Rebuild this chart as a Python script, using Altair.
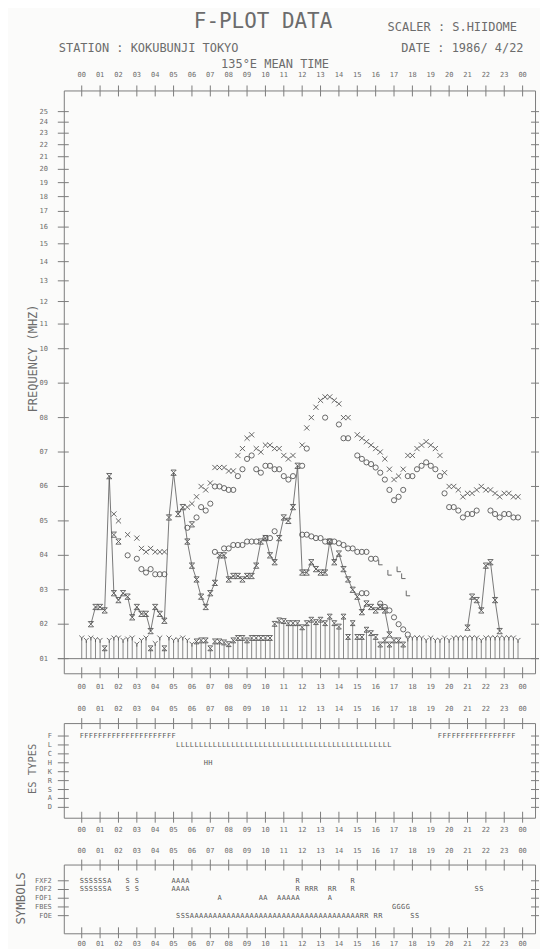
import altair as alt
import pandas as pd

# ---------------- styling ----------------
MONO = "DejaVu Sans Mono"
INK = "#585858"
LINE = "#7c7c7c"
TXT = "#6c6c6c"
BG = "#fbfbfa"

# ---------------- axis / tick labels ----------------
HOUR_TICKS = list(range(25))
HOUR_LABELS = ["%02d" % (h % 24) for h in HOUR_TICKS]
FREQ_TICKS = list(range(1, 26))
FREQ_LABELS = ["%02d" % f for f in FREQ_TICKS]

# ---------------- data (15-minute slots, slot i -> i/4 hours) ----------------
FMIN = [1.60, 1.53, 1.60, 1.55, 1.53, 1.30, 1.53, 1.60, 1.60, 1.53,
        1.57, 1.60, 1.42, 1.53, 1.60, 1.30, 1.44, 1.60, 1.30, 1.60,
        1.53, 1.55, 1.60, 1.53, 1.42, 1.50, 1.53, 1.53, 1.30, 1.50,
        1.50, 1.47, 1.42, 1.53, 1.60, 1.60, 1.53, 1.60, 1.60, 1.60,
        1.60, 1.60, 2.01, 2.11, 2.09, 2.03, 2.03, 2.03, 1.91, 2.03,
        2.13, 2.06, 2.13, 2.03, 2.22, 2.03, 1.93, 2.22, 1.63, 2.03,
        1.63, 1.63, 1.84, 1.74, 1.63, 1.41, 1.53, 1.41, 1.53, 1.53,
        1.41, 1.57, 1.60, 1.60, 1.60, 1.53, 1.60, 1.53, 1.53, 1.60,
        1.53, 1.60, 1.60, 1.60, 1.60, 1.60, 1.60, 1.53, 1.60, 1.60,
        1.60, 1.60, 1.60, 1.60, 1.60, 1.53]
FMIN_SYM = list("YYYYYH" + "YYYYYYYYY" + "H" + "YY" + "H" + "YYYYYY" + "H" * 46 + "Y" * 25)

FOES_SLOT = list(range(2, 68)) + list(range(84, 92))
FOES = [2.0, 2.5, 2.5, 2.4, 6.3, 2.9, 2.7, 2.9, 2.8, 2.2,
        2.5, 2.3, 2.3, 1.8, 2.5, 2.3, 2.1, 5.1, 6.4, 5.2,
        5.4, 4.4, 3.7, 3.3, 2.8, 2.5, 2.9, 3.2, 4.0, 4.0,
        3.3, 3.4, 3.4, 3.3, 3.4, 3.4, 3.7, 4.4, 4.5, 4.0,
        3.8, 4.5, 5.1, 5.0, 5.4, 6.6, 3.5, 3.5, 3.8, 3.6,
        3.5, 3.5, 4.4, 3.8, 4.05, 3.6, 3.3, 3.0, 2.8, 2.35,
        2.6, 2.5, 2.4, 2.5, 2.4, 1.7,
        1.9, 2.8, 2.7, 2.4, 3.7, 3.8, 2.7, 1.8]

FXF2_SLOT = [7, 8, 10, 12, 13, 14, 15, 16, 17, 18,
             23, 24, 25, 26, 27, 28, 29, 30, 31, 32, 33, 34, 35, 36, 37, 38, 39, 40, 41, 42, 43, 44, 45, 46,
             48, 49, 50, 51, 52, 53, 54, 55, 56, 57, 58] + list(range(60, 96))
FXF2 = [5.2, 5.0, 4.6, 4.5, 4.2, 4.1, 4.2, 4.1, 4.1, 4.1,
        5.4, 5.5, 5.7, 6.0, 5.9, 6.1, 6.55, 6.55, 6.55, 6.45, 6.45, 6.9, 7.1, 7.4, 7.5, 7.1, 7.0, 7.2, 7.2, 7.1, 7.1, 6.9, 6.8, 6.9,
        7.2, 7.7, 8.0, 8.3, 8.5, 8.6, 8.6, 8.5, 8.4, 8.0, 8.0,
        7.5, 7.4, 7.3, 7.2, 7.1, 7.0, 6.8, 6.5, 6.2, 6.3, 6.5, 6.9, 6.9, 7.1, 7.2, 7.3, 7.2, 7.1,
        6.9, 6.4, 6.0, 6.0, 5.9, 5.7, 5.8, 5.8, 5.9, 6.0, 5.9, 5.9, 5.8, 5.7, 5.8, 5.8, 5.7, 5.7]

FOF2_SLOT = [7, 8, 10, 12, 13, 14, 15, 16, 17, 18,
             23, 24, 25, 26, 27, 28, 29, 30, 31, 32, 33, 34, 35, 36, 37, 38, 39, 40, 41, 42, 43, 44, 45, 46,
             48, 49, 53, 56, 57, 58] + list(range(60, 87)) + list(range(89, 96))
FOF2 = [4.6, 4.4, 4.0, 3.9, 3.6, 3.5, 3.6, 3.45, 3.45, 3.45,
        4.8, 4.9, 5.1, 5.4, 5.3, 5.5, 6.0, 6.0, 5.95, 5.9, 5.9, 6.3, 6.5, 6.8, 6.9, 6.5, 6.4, 6.6, 6.6, 6.5, 6.5, 6.3, 6.2, 6.3,
        6.6, 7.1, 8.0, 7.8, 7.4, 7.4,
        6.9, 6.8, 6.7, 6.65, 6.55, 6.4, 6.2, 5.9, 5.6, 5.7, 5.9, 6.3, 6.3, 6.5, 6.6, 6.7, 6.6, 6.5, 6.3,
        5.8, 5.4, 5.4, 5.3, 5.1, 5.2, 5.2, 5.3,
        5.3, 5.2, 5.1, 5.2, 5.2, 5.1, 5.1]
FOF2_ALT_SLOT = [7, 8, 24]          # plotted with the hourglass symbol

FOF1_SLOT = [29, 31, 32, 33, 34, 35, 36, 37, 38, 40, 41, 42,
             48, 49, 50, 51, 52, 53, 54, 55, 56, 57, 58, 59, 60, 61, 62, 63, 64]
FOF1 = [4.1, 4.2, 4.2, 4.3, 4.3, 4.3, 4.4, 4.4, 4.4, 4.5, 4.5, 4.7,
        4.6, 4.6, 4.55, 4.5, 4.5, 4.4, 4.4, 4.4, 4.35, 4.3, 4.2, 4.2, 4.1, 4.1, 4.1, 3.9, 3.9]
FOF1L_SLOT = [65, 67, 69, 70, 71]
FOF1L = [3.8, 3.5, 3.6, 3.4, 2.9]

FOE_SLOT = [61, 62, 65, 66, 67, 68, 69, 70, 71]
FOE = [2.9, 2.9, 2.6, 2.5, 2.4, 2.2, 2.0, 1.85, 1.7]

ES_ROWS = ["F", "L", "C", "H", "K", "R", "S", "A", "D"]
ES_RUNS = [("F", 0, 20), ("L", 21, 67), ("H", 27, 28), ("F", 78, 94)]

SYM_ROWS = ["FXF2", "FOF2", "FOF1", "FBES", "FOE"]
SYM_RUNS = [("FXF2", "S", 0, 5), ("FXF2", "A", 6, 6), ("FXF2", "S", 10, 10), ("FXF2", "S", 12, 12),
            ("FXF2", "A", 20, 23), ("FXF2", "R", 47, 47), ("FXF2", "R", 59, 59),
            ("FOF2", "S", 0, 5), ("FOF2", "A", 6, 6), ("FOF2", "S", 10, 10), ("FOF2", "S", 12, 12),
            ("FOF2", "A", 20, 23), ("FOF2", "R", 47, 47), ("FOF2", "R", 49, 51), ("FOF2", "R", 54, 55),
            ("FOF2", "R", 59, 59), ("FOF2", "S", 86, 87),
            ("FOF1", "A", 30, 30), ("FOF1", "A", 39, 40), ("FOF1", "A", 43, 47), ("FOF1", "A", 54, 54),
            ("FBES", "G", 68, 71),
            ("FOE", "S", 21, 23), ("FOE", "A", 24, 60), ("FOE", "R", 61, 62), ("FOE", "R", 64, 65),
            ("FOE", "S", 72, 73)]

# ---------------- geometry of the panels ----------------
W = 473
H_MAIN = 585
H_ES = 95
H_SYM = 69
X_DOMAIN = [-0.976, 24.675]

# frequency axis of the printed form: linear 1-10 MHz, logarithmic above 10 MHz.
# 'fy' is the frequency expressed in "linear-MHz" units of the lower part.
FY_EXPR = "datum.f <= 10 ? datum.f : 10 + 17.303 * log(datum.f / 10) / LN10"
Y_DOMAIN = [0.575, 17.50]

XS = alt.Scale(domain=X_DOMAIN, nice=False, zero=False)
YS = alt.Scale(domain=Y_DOMAIN, nice=False, zero=False)

SHAPES = {
    "x": "M-1,-1L1,1M-1,1L1,-1",
    "o": "circle",
    "hg": "M-1,-1L1,-1L-1,1L1,1Z",
    "y": "M-1,-1L0,0L1,-1M0,0L0,1",
    "l": "M-0.6,-1L-0.6,1L0.9,1",
}
SHAPE_SCALE = alt.Scale(domain=list(SHAPES.keys()), range=list(SHAPES.values()))


def xq(field="t"):
    return alt.X(f"{field}:Q", scale=XS, axis=None)


def yq(field="fy"):
    return alt.Y(f"{field}:Q", scale=YS, axis=None)


one = pd.DataFrame({"k": [0]})
hours = pd.DataFrame({"h": HOUR_TICKS, "lab": HOUR_LABELS})
freqs = pd.DataFrame({"f": FREQ_TICKS, "lab": FREQ_LABELS})


def anchor(top, bottom):
    return alt.Chart(one).mark_rule(opacity=0, strokeWidth=0.01).encode(
        x=alt.value(-55), x2=alt.value(-55), y=alt.value(top), y2=alt.value(bottom))


def hour_frame(h, top_off, bot_off):
    base = alt.Chart(hours)
    t1 = base.mark_rule(color=LINE, strokeWidth=1).encode(
        x=xq("h"), y=alt.value(-5), y2=alt.value(6))
    t2 = base.mark_rule(color=LINE, strokeWidth=1).encode(
        x=xq("h"), y=alt.value(h - 6), y2=alt.value(h + 5))
    l1 = base.mark_text(font=MONO, fontSize=7, color=TXT, baseline="middle").encode(
        x=xq("h"), y=alt.value(top_off), text="lab:N")
    l2 = base.mark_text(font=MONO, fontSize=7, color=TXT, baseline="middle").encode(
        x=xq("h"), y=alt.value(h + bot_off), text="lab:N")
    return [t1, t2, l1, l2]


def label(text, x, y, size, align="center", angle=0):
    return alt.Chart(pd.DataFrame({"s": [text]})).mark_text(
        font=MONO, fontSize=size, color=TXT, align=align, baseline="middle", angle=angle
    ).encode(x=alt.value(x), y=alt.value(y), text="s:N")


def row_panel(rows, runs, h, ys, top_anchor, bottom_anchor, bot_lab, title, title_x, title_y, title_size):
    row_df = pd.DataFrame({"r": rows, "ri": list(range(len(rows)))})
    txt = []
    for row, ch, a, b in runs:
        for i in range(a, b + 1):
            txt.append({"t": i / 4, "ri": rows.index(row), "c": ch})
    txt_df = pd.DataFrame(txt)
    yy = alt.Y("ri:Q", scale=ys, axis=None)
    layers = [anchor(top_anchor, bottom_anchor)]
    layers += hour_frame(h, -14, bot_lab)
    rb = alt.Chart(row_df)
    layers += [
        rb.mark_rule(color=LINE, strokeWidth=1).encode(y=yy, x=alt.value(-6), x2=alt.value(5)),
        rb.mark_rule(color=LINE, strokeWidth=1).encode(y=yy, x=alt.value(W - 4), x2=alt.value(W + 4)),
        rb.mark_text(font=MONO, fontSize=7, color=TXT, align="right", baseline="middle").encode(
            y=yy, x=alt.value(-12), text="r:N"),
        alt.Chart(txt_df).mark_text(font=MONO, fontSize=7, color=INK, baseline="middle").encode(
            x=xq(), y=yy, text="c:N"),
        label(title, title_x, title_y, title_size, angle=270),
    ]
    return alt.layer(*layers).properties(width=W, height=h)


# ---------------- main F-plot ----------------
fmin_df = pd.DataFrame({"t": [i / 4 for i in range(len(FMIN))], "f": FMIN, "b": 1.0,
                        "s": ["y" if c == "Y" else "hg" for c in FMIN_SYM]})
foes_df = pd.DataFrame({"t": [i / 4 for i in FOES_SLOT], "f": FOES,
                        "seg": [0 if i < 80 else 1 for i in FOES_SLOT], "s": "hg"})

rows = []
for i, f in zip(FXF2_SLOT, FXF2):
    rows.append({"t": i / 4, "f": f, "s": "x"})
for i, f in zip(FOF2_SLOT, FOF2):
    rows.append({"t": i / 4, "f": f, "s": "hg" if i in FOF2_ALT_SLOT else "o"})
for i, f in zip(FOF1_SLOT, FOF1):
    rows.append({"t": i / 4, "f": f, "s": "o"})
for i, f in zip(FOF1L_SLOT, FOF1L):
    rows.append({"t": i / 4, "f": f, "s": "l"})
for i, f in zip(FOE_SLOT, FOE):
    rows.append({"t": i / 4, "f": f, "s": "o"})
freg_df = pd.DataFrame(rows)
base_df = pd.DataFrame({"f": [1.0]})

shape_enc = alt.Shape("s:N", scale=SHAPE_SCALE, legend=None)

main_layers = [anchor(-79, 607)]
main_layers += hour_frame(H_MAIN, -16, 14)
fb = alt.Chart(freqs).transform_calculate(fy=FY_EXPR)
main_layers += [
    fb.mark_rule(color=LINE, strokeWidth=1).encode(y=yq(), x=alt.value(-6), x2=alt.value(5)),
    fb.mark_rule(color=LINE, strokeWidth=1).encode(y=yq(), x=alt.value(W - 4), x2=alt.value(W + 4)),
    fb.mark_text(font=MONO, fontSize=7, color=TXT, align="right", baseline="middle").encode(
        y=yq(), x=alt.value(-16), text="lab:N"),
    alt.Chart(base_df).transform_calculate(fy=FY_EXPR).mark_rule(color=LINE, strokeWidth=1).encode(
        y=yq(), x=alt.value(-6), x2=alt.value(W + 4)),
    alt.Chart(fmin_df).transform_calculate(fy=FY_EXPR).mark_rule(color=INK, strokeWidth=0.7).encode(
        x=xq(), y=yq(), y2="b:Q"),
    alt.Chart(fmin_df).transform_calculate(fy=FY_EXPR).mark_point(
        filled=False, size=24, strokeWidth=0.9, opacity=1, color=INK).encode(
        x=xq(), y=yq(), shape=shape_enc),
    alt.Chart(foes_df).transform_calculate(fy=FY_EXPR).mark_line(color=INK, strokeWidth=0.8).encode(
        x=xq(), y=yq(), detail="seg:N"),
    alt.Chart(foes_df).transform_calculate(fy=FY_EXPR).mark_point(
        filled=False, size=28, strokeWidth=0.9, opacity=1, color=INK).encode(
        x=xq(), y=yq(), shape=shape_enc),
    alt.Chart(freg_df).transform_calculate(fy=FY_EXPR).mark_point(
        filled=False, size=27, strokeWidth=0.9, opacity=1, color=INK).encode(
        x=xq(), y=yq(), shape=shape_enc),
    label("F-PLOT DATA", 200, -69, 21),
    label("SCALER : S.HIIDOME", 325, -64, 12, align="left"),
    label("STATION : KOKUBUNJI TOKYO", -5, -42.5, 12, align="left"),
    label("DATE : 1986/ 4/22", 461.5, -42.5, 12, align="right"),
    label("135°E MEAN TIME", 212, -26.5, 12),
    label("FREQUENCY (MHZ)", -31, 269, 12, angle=270),
]
main = alt.layer(*main_layers).properties(width=W, height=H_MAIN)

# ---------------- ES types and symbols panels ----------------
es_runs = [(ch, ch, a, b) for ch, a, b in ES_RUNS]
ES_YS = alt.Scale(domain=[9.162, -1.4525], nice=False, zero=False)
es_panel = row_panel(ES_ROWS, es_runs, H_ES, ES_YS, -26, 116, 12, "ES TYPES", -31, 46, 10.5)

SYM_YS = alt.Scale(domain=[6.023, -1.863], nice=False, zero=False)
sym_panel = row_panel(SYM_ROWS, SYM_RUNS, H_SYM, SYM_YS, -24, 70, 10.5, "SYMBOLS", -43, 34, 12.5)

chart = alt.vconcat(main, es_panel, sym_panel, spacing=0).properties(
    padding=0, background=BG
).configure_view(stroke=LINE, strokeWidth=1)

chart.save("out.html", embed_options={"renderer": "svg", "actions": False})
